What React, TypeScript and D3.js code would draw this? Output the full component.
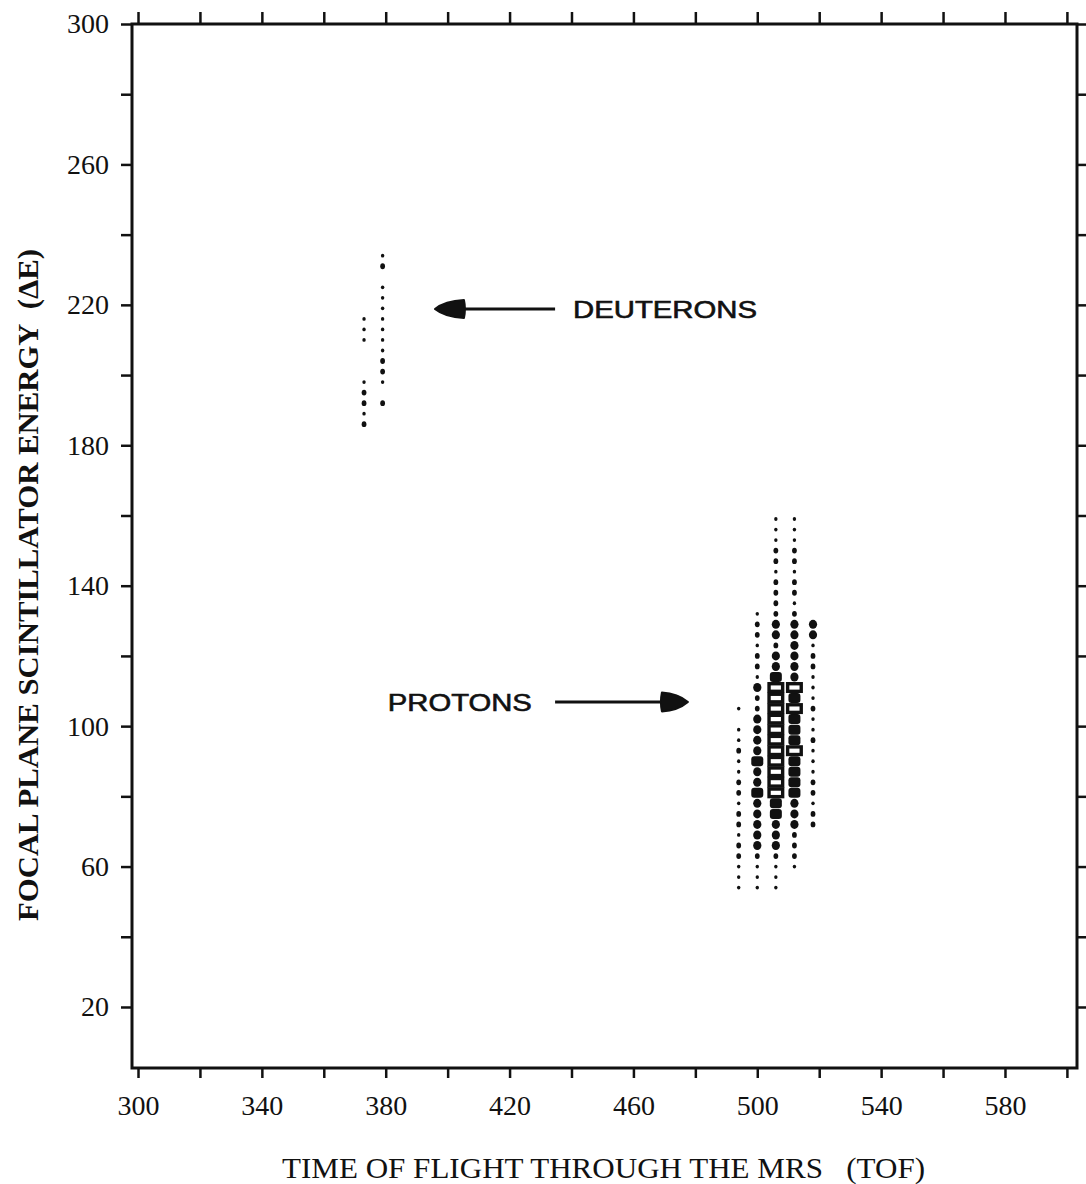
import React, { useEffect, useRef } from 'react'
import * as d3 from 'd3'

// time of flight (TOF channel) of each column of counts
const deuteronTof = [373, 379]
const protonTof = [494, 500, 506, 512, 518]

// [ΔE channel, density level 1..5], top of the column to bottom
const deuteron373 = [[216, 1], [213, 1], [210, 1], [198, 1], [195, 2], [192, 2], [189, 1], [186, 2]]
const deuteron379 = [[234, 1], [231, 2], [225, 1], [222, 1], [219, 1], [216, 1], [213, 1], [210, 1], [207, 1], [204, 2], [201, 2], [198, 1], [192, 2]]

const proton494 = [[105, 1], [99, 1], [96, 1], [93, 2], [90, 1], [87, 1], [84, 2], [81, 2], [78, 1], [75, 2], [72, 2], [69, 1], [66, 2], [63, 2], [60, 1], [57, 1], [54, 1]]
const proton500 = [[132, 1], [129, 2], [126, 2], [123, 1], [120, 2], [117, 2], [114, 1], [111, 3], [108, 2], [105, 2], [102, 3], [99, 3], [96, 3], [93, 3], [90, 4], [87, 3], [84, 3], [81, 4], [78, 3], [75, 3], [72, 3], [69, 3], [66, 3], [63, 2], [60, 1], [57, 1], [54, 1]]
const proton506 = [[159, 1], [156, 1], [153, 1], [150, 2], [147, 2], [144, 1], [141, 2], [138, 2], [135, 2], [132, 2], [129, 3], [126, 3], [123, 2], [120, 3], [117, 3], [114, 4], [111, 5], [108, 5], [105, 5], [102, 5], [99, 5], [96, 5], [93, 5], [90, 5], [87, 5], [84, 5], [81, 5], [78, 4], [75, 4], [72, 3], [69, 3], [66, 3], [63, 2], [60, 1], [57, 1], [54, 1]]
const proton512 = [[159, 1], [156, 1], [153, 1], [150, 2], [147, 2], [144, 1], [141, 2], [138, 2], [135, 1], [132, 2], [129, 3], [126, 3], [123, 3], [120, 3], [117, 3], [114, 3], [111, 5], [108, 4], [105, 5], [102, 4], [99, 4], [96, 4], [93, 5], [90, 4], [87, 4], [84, 4], [81, 4], [78, 3], [75, 3], [72, 3], [69, 2], [66, 2], [63, 2], [60, 1]]
const proton518 = [[129, 3], [126, 3], [123, 1], [120, 2], [117, 2], [114, 1], [111, 1], [108, 1], [105, 2], [102, 1], [99, 1], [96, 2], [93, 1], [90, 1], [87, 1], [84, 2], [81, 2], [78, 1], [75, 2], [72, 2]]

const xTicks = [300, 320, 340, 360, 380, 400, 420, 440, 460, 480, 500, 520, 540, 560, 580, 600]
const xTickLabels = ['300', '340', '380', '420', '460', '500', '540', '580']
const yTicks = [20, 40, 60, 80, 100, 120, 140, 160, 180, 200, 220, 240, 260, 280, 300]
const yTickLabels = ['20', '60', '100', '140', '180', '220', '260', '300']

// annotation anchors, in chart units: [label start tof, label baseline ΔE, arrow tail tof, arrow tip tof, arrow ΔE]
const deuteronNote = [440.5, 216.2, 434.7, 395.9, 218.8]
const protonNote = [380.7, 104.3, 434.7, 477.6, 106.9]

function App() {
    const svgRef = useRef<SVGSVGElement>(null)

    useEffect(() => {
        const width = 1086
        const height = 1184
        const ink = '#111'

        const x = d3.scaleLinear().domain([298.06, 603.26]).range([132, 1077])
        const y = d3.scaleLinear().domain([2.62, 300]).range([1068, 24])

        const svg = d3.select(svgRef.current)
        svg.selectAll('*').remove()
        svg.attr('width', width).attr('height', height)

        const styleAxis = (g: any) => {
            g.select('.domain').remove()
            g.selectAll('line').attr('stroke', ink).attr('stroke-width', 2.5)
            g.selectAll('text')
                .attr('fill', ink)
                .attr('font-family', '"Liberation Serif", "DejaVu Serif", serif')
                .attr('font-size', 28)
        }

        const xFormat = (d: any) => (xTickLabels.includes(String(d)) ? String(d) : '')
        const yFormat = (d: any) => (yTickLabels.includes(String(d)) ? String(d) : '')

        svg.append('g')
            .attr('transform', `translate(0, ${y.range()[0]})`)
            .call(d3.axisBottom(x).tickValues(xTicks).tickSize(10).tickPadding(17).tickFormat(xFormat))
            .call(styleAxis)

        svg.append('g')
            .attr('transform', `translate(0, ${y.range()[1]})`)
            .call(d3.axisTop(x).tickValues(xTicks).tickSize(12).tickFormat(() => ''))
            .call(styleAxis)

        svg.append('g')
            .attr('transform', `translate(${x.range()[0]}, 0)`)
            .call(d3.axisLeft(y).tickValues(yTicks).tickSize(11).tickPadding(12).tickFormat(yFormat))
            .call(styleAxis)

        svg.append('g')
            .attr('transform', `translate(${x.range()[1]}, 0)`)
            .call(d3.axisRight(y).tickValues(yTicks).tickSize(10).tickFormat(() => ''))
            .call(styleAxis)

        // frame
        svg.append('rect')
            .attr('x', x.range()[0])
            .attr('y', y.range()[1])
            .attr('width', x.range()[1] - x.range()[0])
            .attr('height', y.range()[0] - y.range()[1])
            .attr('fill', 'none')
            .attr('stroke', ink)
            .attr('stroke-width', 3)

        const columns = [
            { tof: deuteronTof[0], counts: deuteron373 },
            { tof: deuteronTof[1], counts: deuteron379 },
            { tof: protonTof[0], counts: proton494 },
            { tof: protonTof[1], counts: proton500 },
            { tof: protonTof[2], counts: proton506 },
            { tof: protonTof[3], counts: proton512 },
            { tof: protonTof[4], counts: proton518 },
        ]
        const points = columns.flatMap((c) => c.counts.map(([e, n]) => ({ tof: c.tof, e, n })))

        // dots are slightly taller than wide, like the printer's
        const rx = [0, 1.7, 2.4, 4.1]
        const ry = [0, 1.9, 2.9, 4.5]
        svg.append('g')
            .selectAll('ellipse')
            .data(points.filter((p) => p.n <= 3))
            .join('ellipse')
            .attr('cx', (d) => x(d.tof))
            .attr('cy', (d) => y(d.e))
            .attr('rx', (d) => rx[d.n])
            .attr('ry', (d) => ry[d.n])
            .attr('fill', ink)

        svg.append('g')
            .selectAll('rect')
            .data(points.filter((p) => p.n === 4))
            .join('rect')
            .attr('x', (d) => x(d.tof) - 6)
            .attr('y', (d) => y(d.e) - 5)
            .attr('width', 12)
            .attr('height', 10)
            .attr('rx', 3)
            .attr('fill', ink)

        svg.append('g')
            .selectAll('rect')
            .data(points.filter((p) => p.n === 5))
            .join('rect')
            .attr('x', (d) => x(d.tof) - 6.8)
            .attr('y', (d) => y(d.e) - 3.8)
            .attr('width', 13.6)
            .attr('height', 7.6)
            .attr('fill', 'none')
            .attr('stroke', ink)
            .attr('stroke-width', 3.4)

        // annotations
        const notes = [
            { text: 'DEUTERONS', a: deuteronNote, len: 184, head: 29, half: 9 },
            { text: 'PROTONS', a: protonNote, len: 144, head: 26, half: 9.5 },
        ]
        notes.forEach((n) => {
            const [lx, ly, tail, tip, ay] = n.a
            const dir = Math.sign(x(tip) - x(tail))
            const tx = x(tip)
            const yy = y(ay)
            const base = tx - dir * n.head
            svg.append('text')
                .attr('x', x(lx))
                .attr('y', y(ly))
                .attr('font-family', '"Liberation Sans", Arial, sans-serif')
                .attr('font-size', 24)
                .attr('fill', ink)
                .attr('stroke', ink)
                .attr('stroke-width', 0.6)
                .attr('textLength', n.len)
                .attr('lengthAdjust', 'spacingAndGlyphs')
                .text(n.text)
            svg.append('line')
                .attr('x1', x(tail))
                .attr('x2', base)
                .attr('y1', yy)
                .attr('y2', yy)
                .attr('stroke', ink)
                .attr('stroke-width', 3)
            svg.append('path')
                .attr('d', `M${tx},${yy} Q${tx - dir * 10},${yy - n.half * 0.9} ${base},${yy - n.half} Q${base - dir * 2},${yy} ${base},${yy + n.half} Q${tx - dir * 10},${yy + n.half * 0.9} ${tx},${yy} Z`)
                .attr('fill', ink)
                .attr('stroke', ink)
                .attr('stroke-width', 2)
                .attr('stroke-linejoin', 'round')
        })

        // axis titles
        svg.append('text')
            .attr('x', 603.5)
            .attr('y', 1178)
            .attr('text-anchor', 'middle')
            .attr('font-family', '"Liberation Serif", "DejaVu Serif", serif')
            .attr('font-size', 30)
            .attr('fill', ink)
            .attr('textLength', 643)
            .attr('lengthAdjust', 'spacingAndGlyphs')
            .style('white-space', 'pre')
            .text('TIME OF FLIGHT THROUGH THE MRS   (TOF)')

        svg.append('text')
            .attr('transform', 'translate(38, 585) rotate(-90)')
            .attr('text-anchor', 'middle')
            .attr('font-family', '"Liberation Serif", "DejaVu Serif", serif')
            .attr('font-weight', 'bold')
            .attr('font-size', 30)
            .attr('fill', ink)
            .attr('textLength', 672)
            .attr('lengthAdjust', 'spacingAndGlyphs')
            .style('white-space', 'pre')
            .text('FOCAL PLANE SCINTILLATOR ENERGY  (ΔE)')
    }, [])

    return (
        <svg
            ref={svgRef}
            style={{ position: 'absolute', left: 0, top: 0, background: '#fff' }}
        ></svg>
    )
}

export default App
